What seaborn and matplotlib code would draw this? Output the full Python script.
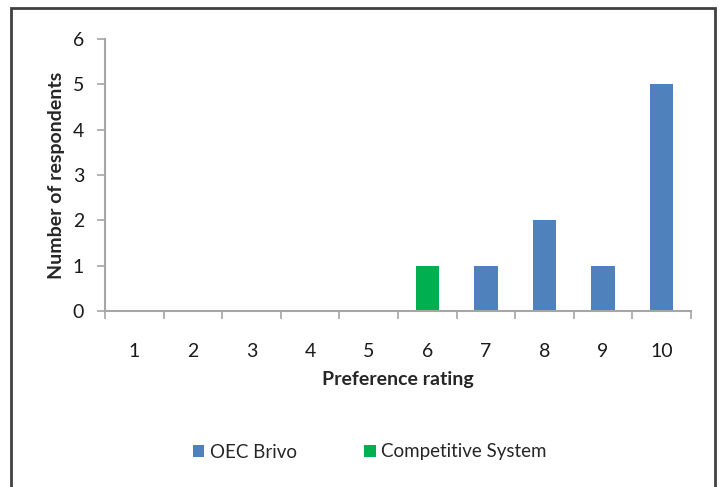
import pandas as pd
import numpy as np
import matplotlib
matplotlib.use("Agg")
import matplotlib.pyplot as plt
import seaborn as sns
from matplotlib.patches import Rectangle, Patch

ratings = ["1", "2", "3", "4", "5", "6", "7", "8", "9", "10"]
oec_brivo = [0, 0, 0, 0, 0, 0, 1, 2, 1, 5]
competitive = [0, 0, 0, 0, 0, 1, 0, 0, 0, 0]
series = ["OEC Brivo", "Competitive System"]
colors = {"OEC Brivo": "#4F81BD", "Competitive System": "#00B050"}

df = pd.DataFrame({
    "rating": ratings * 2,
    "count": oec_brivo + competitive,
    "system": [series[0]] * len(ratings) + [series[1]] * len(ratings),
})

sns.set_theme(style="white")
plt.rcParams["font.family"] = ["Lato", "DejaVu Sans"]

fig = plt.figure(figsize=(7.2, 4.87), dpi=100)
ax = fig.add_axes([105 / 720, 1 - 311 / 487, 586 / 720, 272 / 487])

sns.barplot(data=df, x="rating", y="count", hue="system", order=ratings,
            hue_order=series, palette=colors, dodge=False, width=0.4,
            saturation=1, linewidth=0, ax=ax, legend=False)

# axes look (Excel style)
axis_col = "#A6A6A6"
for s in ["top", "right"]:
    ax.spines[s].set_visible(False)
for s in ["left", "bottom"]:
    ax.spines[s].set_color(axis_col)
    ax.spines[s].set_linewidth(1.5)

fs = 14
ax.set_ylim(0, 6)
ax.set_yticks(range(0, 7))
ax.set_xlim(-0.5, len(ratings) - 0.5)
ax.set_xticks(np.arange(-0.5, len(ratings), 1.0))
ax.set_xticklabels([])
ax.set_xticks(range(len(ratings)), minor=True)
ax.set_xticklabels(ratings, minor=True)
ax.tick_params(axis="x", which="major", direction="out", length=6, width=1.2,
               color=axis_col, bottom=True)
ax.tick_params(axis="x", which="minor", length=0, pad=23, labelsize=fs,
               labelcolor="#1a1a1a")
ax.tick_params(axis="y", direction="out", length=6, width=1.2, color=axis_col,
               left=True, pad=9, labelsize=fs, labelcolor="#1a1a1a")

ax.set_xlabel("Preference rating", fontsize=fs, fontweight="bold")
ax.xaxis.set_label_coords(0.5, -0.22)
ax.set_ylabel("Number of respondents", fontsize=fs, fontweight="bold")
ax.yaxis.set_label_coords(-0.068, 0.5)

handles = [Patch(facecolor=colors[s], edgecolor="none") for s in series]
fig.legend(handles, series, loc="center", bbox_to_anchor=(370 / 720, 1 - 452 / 487),
           ncol=2, frameon=False, fontsize=13.5, handlelength=0.6, handleheight=0.6,
           handletextpad=0.3, columnspacing=3.6)

# outer chart border
fig.patches.append(Rectangle((11 / 720, -0.05), 704 / 720, 1.05 - 8 / 487,
                             transform=fig.transFigure, fill=False,
                             edgecolor="#404040", linewidth=2))

plt.savefig("out.png", dpi=100)
plt.close()
